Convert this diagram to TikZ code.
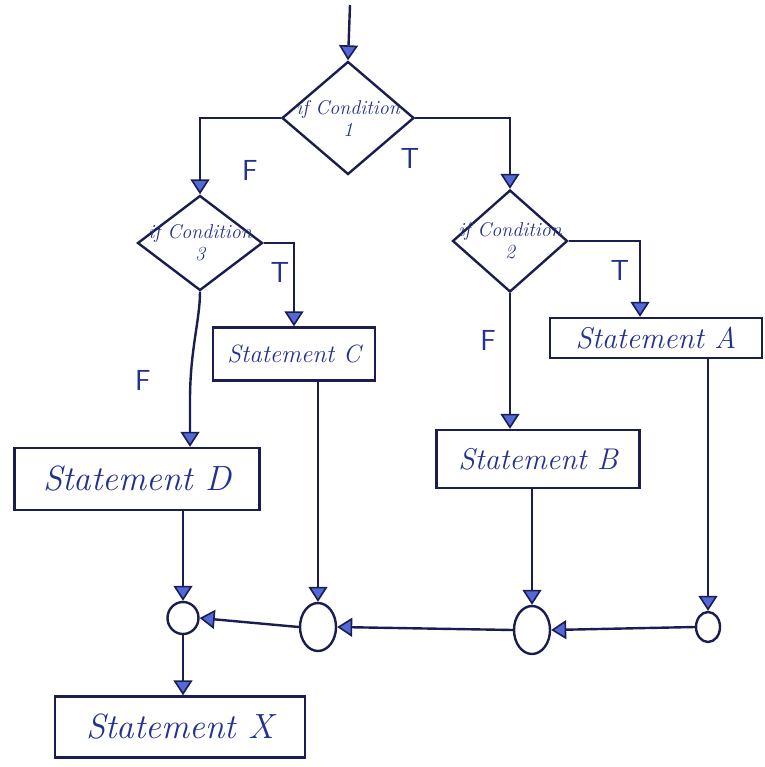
\documentclass[tikz,border=0pt]{standalone}
\usetikzlibrary{shapes.geometric,arrows.meta,calc}
\definecolor{ink}{HTML}{1A1D4F}
\definecolor{pen}{HTML}{22308F}
\definecolor{tipfill}{HTML}{5468D8}
\begin{document}
\begin{tikzpicture}[x=1pt,y=-1pt,
  line width=2.4pt,
  every node/.style={text=pen},
  flow/.style={draw=ink,line width=2.4pt,-{Triangle[open,width=19pt,length=15pt,fill=tipfill,line width=1.6pt]}},
  decide/.style={shape=diamond,draw=ink,line width=2.4pt,inner sep=0pt},
  dtext/.style={font=\itshape\fontsize{20}{22}\selectfont,align=center,inner sep=0pt},
  stmt/.style={shape=rectangle,draw=ink,line width=2.4pt,inner sep=0pt,font=\itshape\fontsize{30}{32}\selectfont},
  joinpt/.style={shape=ellipse,draw=ink,line width=2.4pt,inner sep=0pt},
  tf/.style={font=\sffamily\fontsize{29}{31}\selectfont}
]
\useasboundingbox (0,0) rectangle (764,767);

% decisions
\node[decide,minimum width=132pt,minimum height=113pt] (d1) at (348,118) {};
\node[dtext] (d1t) at (d1.center) {if Condition\\1};
\node[decide,minimum width=125pt,minimum height=95pt] (d3) at (200,243) {};
\node[dtext] (d3t) at (d3.center) {if Condition\\3};
\node[decide,minimum width=115pt,minimum height=102pt] (d2) at (510,241) {};
\node[dtext] (d2t) at (d2.center) {if Condition\\2};

% statements
\node[stmt,minimum width=162pt,minimum height=53pt,font=\itshape\fontsize{25}{27}\selectfont] (sC) at (294,354) {Statement C};
\node[stmt,minimum width=245pt,minimum height=62pt,font=\itshape\fontsize{35}{37}\selectfont] (sD) at (137,479) {Statement D};
\node[stmt,minimum width=212pt,minimum height=40pt] (sA) at (656,338) {Statement A};
\node[stmt,minimum width=203pt,minimum height=58pt] (sB) at (538,459) {Statement B};
\node[stmt,minimum width=250pt,minimum height=61pt,font=\itshape\fontsize{35}{37}\selectfont] (sX) at (180,727) {Statement X};

% joins
\node[joinpt,minimum width=31pt,minimum height=32pt] (j1) at (183,618) {};
\node[joinpt,minimum width=36pt,minimum height=48pt] (j2) at (318,627) {};
\node[joinpt,minimum width=36pt,minimum height=48pt] (j3) at (532,630) {};
\node[joinpt,minimum width=24pt,minimum height=30pt] (j4) at (708,627) {};

% entry
\coordinate (start) at (350,5);
\draw[flow] (start) -- (d1.north);

% branches of condition 1
\draw[flow] (d1.west) -| (d3.north);
\draw[flow] (d1.east) -| (d2.north);
\node[tf] (f1) at (250,170) {F};
\node[tf] (t1) at (410,158) {T};

% branches of condition 3
\draw[flow] (d3.east) -| (sC.north);
\node[tf] (t3) at (280,272) {T};
\coordinate (dbend) at (190,400);
\draw[flow] (d3.south) .. controls (200,320) and (190,350) .. (dbend) -- ([xshift=53pt]sD.north);
\node[tf] (f3) at (143,380) {F};

% branches of condition 2
\draw[flow] (d2.east) -| ([xshift=-16pt]sA.north);
\node[tf] (t2) at (620,270) {T};
\draw[flow] (d2.south) -- (d2.south |- sB.north);
\node[tf] (f2) at (488,340) {F};

% statements to joins
\draw[flow] ([xshift=46pt]sD.south) -- (j1.north);
\draw[flow] (j2.north |- sC.south) -- (j2.north);
\draw[flow] (j3.north |- sB.south) -- (j3.north);
\draw[flow] (j4.north |- sA.south) -- (j4.north);

% joins chained right to left
\draw[flow] (j4.west) -- (j3.east);
\draw[flow] (j3.west) -- (j2.east);
\draw[flow] (j2.west) -- (j1.east);

% to final statement
\draw[flow] (j1.south) -- (j1.south |- sX.north);
\end{tikzpicture}
\end{document}
